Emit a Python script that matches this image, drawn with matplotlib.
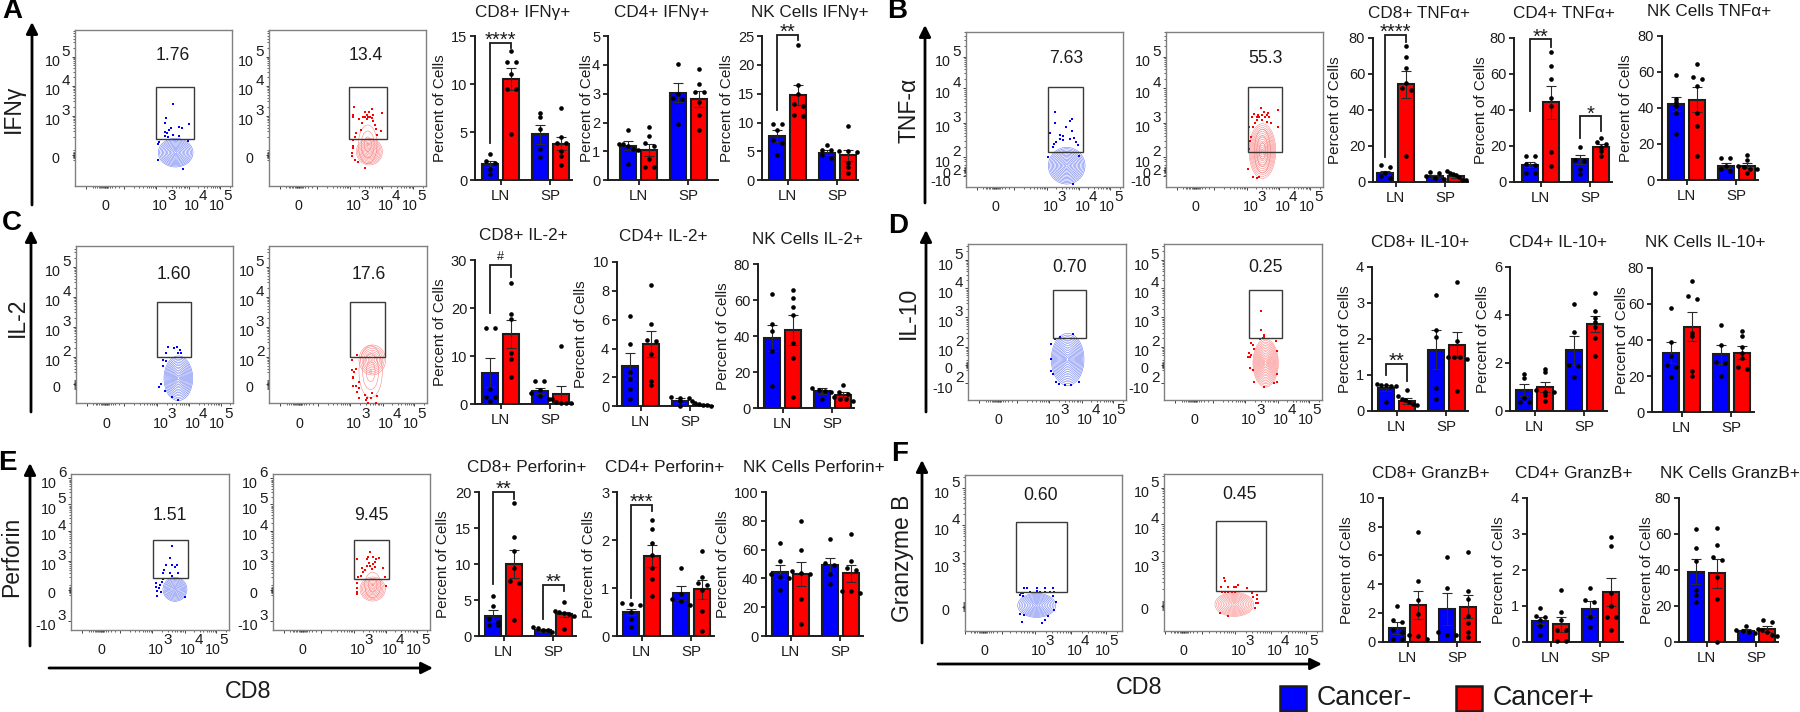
"""
Cytokine panels: flow plots (CD8 vs marker) and bar charts for LN / SP, Cancer- vs Cancer+
"""

import numpy as np
import matplotlib
matplotlib.use("Agg")
import matplotlib.pyplot as plt
from matplotlib.patches import Ellipse, Rectangle

plt.rcParams['font.family'] = ['Liberation Sans', 'DejaVu Sans']

WIDTH = 1800
HEIGHT = 712
BLUE = '#0000ff'
RED = '#ff0000'
INK = '#1c1c1c'
BAR_POS = [0, 1, 2.34, 3.34]
PX_PER_BAR = 21.3
GROUP_TICKS = [0.5, 2.84]
GROUP_LABELS = ['LN', 'SP']
X_DECADES = [243, 340, 434]

# ---- bar chart values, order is LN-, LN+, SP-, SP+
IFNG_CD8_MEANS = [1.7, 10.5, 4.8, 3.8]
IFNG_CD8_SEMS = [0.3, 1.15, 1.0, 0.7]
IFNG_CD8_DOTS = [[2.7, 2.0, 1.8, 1.2, 0.7], [13.4, 12.3, 12.3, 11.0, 9.5, 9.5, 4.8],
                 [7.0, 6.6, 5.3, 3.3, 2.4], [7.5, 4.5, 3.9, 3.9, 3.0, 2.5, 1.6]]
IFNG_CD4_MEANS = [1.2, 1.05, 3.03, 2.83]
IFNG_CD4_SEMS = [0.15, 0.22, 0.33, 0.28]
IFNG_CD4_DOTS = [[1.73, 1.27, 1.25, 1.2, 1.1, 1.05, 0.58], [1.85, 1.55, 1.3, 1.2, 0.75, 0.45, 0.45],
                 [4.02, 3.0, 2.85, 2.8, 1.95], [3.87, 3.35, 3.05, 3.05, 2.7, 2.25, 1.75]]
IFNG_NK_MEANS = [7.7, 14.8, 4.8, 4.3]
IFNG_NK_SEMS = [1.0, 1.7, 0.45, 1.0]
IFNG_NK_DOTS = [[9.8, 9.8, 8.7, 7.0, 6.5, 4.3], [23.4, 16.5, 15.0, 13.2, 12.8, 11.3, 11.2],
                [6.1, 5.2, 5.2, 4.4, 3.8], [9.4, 5.1, 5.1, 4.9, 3.0, 2.3, 1.2]]

TNF_CD8_MEANS = [5, 54, 3, 3]
TNF_CD8_SEMS = [1.2, 7.5, 0.8, 0.8]
TNF_CD8_DOTS = [[9, 8, 5, 3, 2], [75.5, 69.5, 63, 55, 52, 51, 14],
                [5.3, 5, 3, 2, 1.5], [6, 5, 4, 3.5, 2.5, 1, 0.8]]
TNF_CD4_MEANS = [9.5, 44, 12.5, 19.5]
TNF_CD4_SEMS = [1.5, 9, 2.5, 1.5]
TNF_CD4_DOTS = [[14.5, 14.5, 10, 9.5, 5, 5], [72, 64.5, 57, 46.5, 42, 16.5, 8.5],
                [19.5, 12, 11.5, 7, 4], [24.5, 22, 21, 19, 17, 14]]
TNF_NK_MEANS = [42, 44.5, 8, 8]
TNF_NK_SEMS = [4, 7, 1.5, 1.5]
TNF_NK_DOTS = [[58, 45, 43, 41, 37, 25.5], [64.5, 57, 56, 52, 37, 30, 13.5],
               [12, 12, 8, 6, 5], [14, 11, 8, 7, 6, 6, 4]]

IL2_CD8_MEANS = [6.5, 14.6, 2.7, 2.0]
IL2_CD8_SEMS = [3.0, 3.0, 0.7, 1.7]
IL2_CD8_DOTS = [[15.8, 15.8, 3.2, 1.5, 1.5, 0.7], [25.2, 18.8, 17.7, 10.6, 9.3, 5.6],
                [4.7, 4.7, 3.0, 2.2, 1.7, 1.0], [12, 1, 0.5, 0.3, 0.3, 0.3]]
IL2_CD4_MEANS = [2.8, 4.3, 0.4, 0.1]
IL2_CD4_SEMS = [0.9, 0.9, 0.2, 0.08]
IL2_CD4_DOTS = [[6.25, 4.35, 2.4, 1.9, 1.2, 0.5], [8.4, 5.7, 4.6, 4.5, 3.6, 1.75, 1.5],
                [0.65, 0.6, 0.6, 0.35, 0.05], [0.4, 0.2, 0.15, 0.1, 0.1, 0.05]]
IL2_NK_MEANS = [39, 43.5, 9.5, 7.5]
IL2_NK_SEMS = [7, 8.5, 1.5, 1.5]
IL2_NK_DOTS = [[63.5, 46.5, 43, 32, 12.5], [65.5, 61, 56, 52, 36, 28, 6.5],
               [11.5, 10, 9.5, 9, 5], [13, 9, 8, 6, 5, 5, 4]]

IL10_CD8_MEANS = [0.63, 0.28, 1.7, 1.83]
IL10_CD8_SEMS = [0.08, 0.08, 0.55, 0.37]
IL10_CD8_DOTS = [[0.73, 0.72, 0.71, 0.7, 0.7, 0.25], [0.57, 0.4, 0.32, 0.3, 0.25, 0.2, 0.17],
                 [3.22, 2.25, 2.05, 0.62, 0.32], [3.58, 1.95, 1.5, 1.5, 1.5, 1.45, 0.55]]
IL10_CD4_MEANS = [0.85, 1.0, 2.52, 3.63]
IL10_CD4_SEMS = [0.25, 0.2, 0.6, 0.33]
IL10_CD4_DOTS = [[1.55, 1.35, 0.55, 0.35, 0.35], [1.75, 1.6, 0.85, 0.8, 0.8, 0.65, 0.4],
                 [4.45, 3.3, 1.9, 1.85, 1.4], [4.9, 4.15, 3.85, 3.7, 3.5, 3.05, 2.3]]
IL10_NK_MEANS = [33, 47.5, 32, 33]
IL10_NK_SEMS = [6, 8, 5.5, 3.5]
IL10_NK_DOTS = [[58, 39, 31, 26, 25, 19.5], [73, 64.5, 63, 44, 42, 23, 20],
                [48.5, 37, 28, 27, 20], [45, 42, 36, 33, 30, 25, 24]]

PRF_CD8_MEANS = [2.8, 10, 0.8, 3]
PRF_CD8_SEMS = [0.75, 2, 0.2, 0.4]
PRF_CD8_DOTS = [[5.6, 4.2, 2.3, 2, 1.5, 1.5], [18.5, 13.8, 11.8, 9.4, 7.6, 7.4, 2.2],
                [1.2, 1.1, 0.9, 0.8, 0.6], [4.7, 3.5, 3.3, 3.2, 3.1, 2.8, 1.0]]
PRF_CD4_MEANS = [0.5, 1.67, 0.9, 0.97]
PRF_CD4_SEMS = [0.07, 0.23, 0.15, 0.2]
PRF_CD4_DOTS = [[0.68, 0.67, 0.65, 0.5, 0.35, 0.18], [2.42, 2.22, 1.93, 1.68, 1.42, 1.18, 0.83],
                [1.42, 0.88, 0.78, 0.72, 0.65], [1.77, 1.22, 1.1, 1.07, 0.95, 0.52, 0.1]]
PRF_NK_MEANS = [44.5, 43, 49, 43.5]
PRF_NK_SEMS = [5, 8.5, 5.5, 6]
PRF_NK_DOTS = [[64.5, 52, 43, 41, 40, 32], [80, 60, 45, 44, 43, 26, 8],
               [67.5, 51, 49, 43, 36], [71, 52, 47, 46, 31, 31, 30]]

GZB_CD8_MEANS = [0.95, 2.55, 2.25, 2.42]
GZB_CD8_SEMS = [0.4, 1.0, 1.1, 0.8]
GZB_CD8_DOTS = [[2.5, 1.5, 1.4, 0.8, 0.7, 0.2, 0.2], [7.65, 4.25, 2.9, 1.9, 0.5, 0.4, 0.2],
                [5.85, 3.7, 0.7, 0.5, 0.5], [6.2, 3.5, 3.0, 1.8, 1.3, 0.7, 0.3]]
GZB_CD4_MEANS = [0.58, 0.48, 0.92, 1.38]
GZB_CD4_SEMS = [0.1, 0.2, 0.2, 0.38]
GZB_CD4_DOTS = [[0.95, 0.72, 0.7, 0.6, 0.45, 0.18], [1.43, 0.83, 0.6, 0.33, 0.33, 0.03, 0.03],
                [1.48, 1.15, 1.1, 0.68, 0.4], [2.92, 2.67, 1.35, 1.0, 0.68, 0.68, 0.32]]
GZB_NK_MEANS = [39, 38, 6, 7]
GZB_NK_SEMS = [7, 8, 1.2, 1.5]
GZB_NK_DOTS = [[62.5, 52, 45, 29, 26, 22], [63, 53.5, 47, 45.5, 36, 23.5, 0],
               [9, 6.5, 6, 5.5, 5], [12, 11, 7, 6.5, 5.5, 4, 3]]

# ---- each entry: title, means, sems, dots, y ticks, box (left, top, right, bottom),
# first bar, ylabel x, title x, title y, brackets (x0, x1, y top, y left, y right, text)
BAR_PANELS = [
    ('CD8+ IFNγ+', IFNG_CD8_MEANS, IFNG_CD8_SEMS, IFNG_CD8_DOTS, [0, 5, 10, 15], (475, 36, 572, 180.3), 490, 440, 523, 12,
     [(0, 1, 14.3, 3.84, 13.8, '****')]),
    ('CD4+ IFNγ+', IFNG_CD4_MEANS, IFNG_CD4_SEMS, IFNG_CD4_DOTS, [0, 1, 2, 3, 4, 5], (608, 36, 718, 180.3), 628, 587, 662, 12, []),
    ('NK Cells IFNγ+', IFNG_NK_MEANS, IFNG_NK_SEMS, IFNG_NK_DOTS, [0, 5, 10, 15, 20, 25], (762, 36, 858, 180.3), 777, 727, 810, 12,
     [(0, 1, 25.2, 12.2, 24.3, '**')]),
    ('CD8+ TNFα+', TNF_CD8_MEANS, TNF_CD8_SEMS, TNF_CD8_DOTS, [0, 20, 40, 60, 80], (1373, 37.7, 1468, 181.7), 1385, 1335, 1419, 13,
     [(0, 1, 81.7, 13.9, 77.8, '****')]),
    ('CD4+ TNFα+', TNF_CD4_MEANS, TNF_CD4_SEMS, TNF_CD4_DOTS, [0, 20, 40, 60, 80], (1514, 37.7, 1612, 181.7), 1530, 1481, 1564, 13,
     [(0, 1, 79, 39.4, 75, '**'), (2.34, 3.34, 36.3, 24, 28, '*')]),
    ('NK Cells TNFα+', TNF_NK_MEANS, TNF_NK_SEMS, TNF_NK_DOTS, [0, 20, 40, 60, 80], (1662, 35.7, 1758, 180), 1676, 1626, 1709, 11, []),
    ('CD8+ IL-2+', IL2_CD8_MEANS, IL2_CD8_SEMS, IL2_CD8_DOTS, [0, 10, 20, 30], (475, 260, 573, 404), 490, 440, 523, 236,
     [(0, 1, 29, 19, 26.5, '#')]),
    ('CD4+ IL-2+', IL2_CD4_MEANS, IL2_CD4_SEMS, IL2_CD4_DOTS, [0, 2, 4, 6, 8, 10], (617, 262, 713, 406.3), 630, 581, 663, 237, []),
    ('NK Cells IL-2+', IL2_NK_MEANS, IL2_NK_SEMS, IL2_NK_DOTS, [0, 20, 40, 60, 80], (758, 264, 854, 408.3), 772, 723, 807, 239, []),
    ('CD8+ IL-10+', IL10_CD8_MEANS, IL10_CD8_SEMS, IL10_CD8_DOTS, [0, 1, 2, 3, 4], (1372, 267, 1468, 410.7), 1386, 1345, 1420, 243,
     [(0, 1, 1.31, 0.99, 0.83, '**')]),
    ('CD4+ IL-10+', IL10_CD4_MEANS, IL10_CD4_SEMS, IL10_CD4_DOTS, [0, 2, 4, 6], (1510, 267, 1607, 410.7), 1524, 1483, 1558, 243, []),
    ('NK Cells IL-10+', IL10_NK_MEANS, IL10_NK_SEMS, IL10_NK_DOTS, [0, 20, 40, 60, 80], (1652, 268, 1754, 412), 1671, 1622, 1705, 243, []),
    ('CD8+ Perforin+', PRF_CD8_MEANS, PRF_CD8_SEMS, PRF_CD8_DOTS, [0, 5, 10, 15, 20], (479, 492, 576, 636), 493, 443, 527, 467,
     [(0, 1, 20, 7.2, 19, '**'), (2.34, 3.34, 7.1, 2.3, 6.2, '**')]),
    ('CD4+ Perforin+', PRF_CD4_MEANS, PRF_CD4_SEMS, PRF_CD4_DOTS, [0, 1, 2, 3], (617, 492, 714, 636), 631, 589, 665, 467,
     [(0, 1, 2.73, 0.8, 2.6, '***')]),
    ('NK Cells Perforin+', PRF_NK_MEANS, PRF_NK_SEMS, PRF_NK_DOTS, [0, 20, 40, 60, 80, 100], (766, 492, 863, 636), 780, 723, 814, 467, []),
    ('CD8+ GranzB+', GZB_CD8_MEANS, GZB_CD8_SEMS, GZB_CD8_DOTS, [0, 2, 4, 6, 8, 10], (1383, 497.7, 1480, 641.7), 1397, 1347, 1431, 473, []),
    ('CD4+ GranzB+', GZB_CD4_MEANS, GZB_CD4_SEMS, GZB_CD4_DOTS, [0, 1, 2, 3, 4], (1527, 497.7, 1623, 641.7), 1540, 1499, 1574, 473, []),
    ('NK Cells GranzB+', GZB_NK_MEANS, GZB_NK_SEMS, GZB_NK_DOTS, [0, 20, 40, 60, 80], (1679, 497.7, 1778, 641.7), 1696, 1647, 1730, 473, []),
]

# ---- flow events, in channel units of each plot
IFNG_NEG_EVENTS = [(292, 245), (271, 203), (269, 188), (342, 187), (311, 176), (319, 173), (287, 173), (281, 168), (269, 163),
                   (274, 158), (269, 150), (279, 148), (294, 153), (312, 150), (252, 131), (249, 125), (337, 136), (247, 77), (322, 52)]
IFNG_POS_EVENTS = [(257, 238), (289, 223), (311, 230), (302, 223), (314, 213), (339, 218), (252, 213), (252, 208), (294, 213),
                   (284, 208), (289, 206), (299, 206), (304, 208), (309, 203), (272, 200), (294, 200), (314, 196), (279, 188),
                   (319, 183), (276, 168), (322, 170), (336, 166), (262, 158), (324, 153), (259, 146), (254, 138), (252, 121),
                   (254, 113), (250, 98), (250, 90), (259, 78), (269, 71), (290, 53)]
TNF_NEG_EVENTS = [(269, 223), (269, 192), (318, 202), (313, 198), (301, 180), (318, 167), (253, 160), (283, 155), (293, 153),
                  (325, 145), (313, 142), (283, 142), (293, 140), (270, 135), (330, 135), (265, 128), (337, 125), (261, 120),
                  (248, 90), (340, 92), (321, 7)]
TNF_POS_EVENTS = [(286, 235), (336, 230), (295, 225), (265, 218), (278, 215), (288, 215), (308, 222), (303, 215), (258, 208),
                  (273, 208), (281, 208), (298, 208), (311, 210), (275, 200), (288, 200), (268, 190), (303, 195), (315, 192),
                  (251, 180), (261, 178), (336, 178), (255, 150), (253, 138), (249, 112), (247, 52), (263, 30), (275, 25), (279, 28)]
IL2_NEG_EVENTS = [(275, 170), (304, 170), (294, 165), (312, 160), (270, 150), (307, 150), (314, 150), (262, 130), (269, 127),
                  (262, 112), (256, 57), (249, 50), (267, 38), (288, 18), (307, 10)]
IL2_POS_EVENTS = [(264, 145), (247, 129), (260, 102), (247, 100), (255, 93), (250, 80), (252, 75), (270, 65), (252, 52), (260, 53),
                  (270, 45), (264, 35), (287, 25), (307, 32), (322, 22), (270, 17), (292, 15), (304, 15), (290, 10), (320, 0), (297, 2)]
IL10_NEG_EVENTS = [(315, 197), (276, 190), (261, 184), (249, 168), (248, 124), (248, 87), (253, 78), (263, 55), (272, 49), (291, 44),
                   (309, 45), (331, 53)]
IL10_POS_EVENTS = [(291, 267), (291, 210), (299, 195), (299, 188), (287, 182), (297, 185), (334, 177), (259, 172), (267, 165), (270, 152),
                   (339, 148), (255, 142), (259, 135), (250, 128), (257, 130), (257, 95), (265, 90), (339, 78), (270, 55), (330, 52),
                   (337, 55), (299, 40)]
PRF_NEG_EVENTS = [(301, 252), (296, 215), (283, 194), (301, 195), (318, 196), (310, 188), (278, 180), (274, 172), (296, 170), (301, 163),
                  (321, 172), (274, 152), (254, 142), (271, 145), (266, 135), (254, 130), (264, 125), (258, 118), (268, 113), (258, 102),
                  (341, 100)]
PRF_POS_EVENTS = [(292, 235), (287, 220), (300, 218), (252, 212), (282, 212), (310, 212), (320, 215), (307, 205), (290, 202), (302, 198),
                  (282, 192), (292, 192), (307, 190), (332, 185), (267, 185), (277, 180), (297, 182), (272, 175), (264, 162), (257, 160),
                  (337, 158), (254, 140), (340, 132), (252, 125), (252, 115), (252, 107)]
GZB_NEG_EVENTS = [(178, 129), (186, 127), (218, 127), (241, 127), (266, 127), (196, 117), (216, 120), (226, 117), (241, 117), (256, 117),
                  (268, 117), (168, 114), (176, 112), (166, 107), (174, 104), (264, 104), (274, 87), (268, 62), (166, 50), (178, 47),
                  (251, 45), (241, 32), (173, 27), (233, 24)]
GZB_POS_EVENTS = [(180, 157), (182, 150), (169, 132), (192, 132), (209, 130), (222, 137), (215, 130), (247, 127), (172, 115), (182, 115),
                  (192, 115), (202, 115), (212, 115), (262, 114), (279, 107), (267, 102), (277, 95), (274, 84), (280, 84), (272, 67),
                  (167, 54), (190, 44)]

# box, colour, events, gate (x0, x1, y0, y1), contour families (cx, cy, rx, ry, rings), percent text (text, x, y),
# y decades {exponent: channel}, zero channel, negative decade (exponent, channel) or None, x decades
FLOW_PLOTS = [
    ((75.3, 30, 232, 186), BLUE, IFNG_NEG_EVENTS, (241, 355, 140, 298), [(301, 100, 52, 43, 13)], ('1.76', 292, 390),
     {5: 388, 4: 301, 3: 211}, 93, None, X_DECADES),
    ((268.7, 30, 426, 186), RED, IFNG_POS_EVENTS, (241, 355, 140, 298), [(302, 103, 39, 40, 11), (297, 125, 28, 58, 4)], ('13.4', 291, 390),
     {5: 388, 4: 301, 3: 211}, 93, None, X_DECADES),
    ((965.7, 31.7, 1122.7, 186.7), BLUE, TNF_NEG_EVENTS, (247, 351, 105, 300), [(303, 63, 55, 55, 14)], ('7.63', 302, 385),
     {5: 390, 4: 295, 3: 192, 2: 88}, 50, (2, 32), X_DECADES),
    ((1165.7, 31.7, 1322.7, 186.7), RED, TNF_POS_EVENTS, (246, 350, 105, 300), [(290, 107, 40, 82, 14), (290, 107, 24, 66, 4)], ('55.3', 300, 385),
     {5: 390, 4: 295, 3: 192, 2: 88}, 50, (2, 32), X_DECADES),
    ((76, 246, 232.7, 403.3), BLUE, IL2_NEG_EVENTS, (242, 345, 139, 305), [(307, 75, 43, 67, 14)], ('1.60', 295, 385),
     {5: 410, 4: 320, 3: 230, 2: 140}, 57, None, X_DECADES),
    ((269.3, 246, 426.7, 403.3), RED, IL2_POS_EVENTS, (243, 346, 139, 303), [(309, 130, 40, 45, 9), (304, 95, 35, 78, 4)], ('17.6', 298, 385),
     {5: 410, 4: 320, 3: 230, 2: 140}, 57, None, X_DECADES),
    ((968.3, 244, 1126, 400), BLUE, IL10_NEG_EVENTS, (255, 354, 185, 330), [(298, 122, 49, 78, 15)], ('0.70', 305, 398),
     {5: 420, 4: 335, 3: 248, 2: 160}, 105, (2, 50), X_DECADES),
    ((1164.3, 244, 1322.3, 400), RED, IL10_POS_EVENTS, (255, 354, 185, 330), [(304, 111, 38, 72, 15)], ('0.25', 305, 398),
     {5: 420, 4: 335, 3: 248, 2: 160}, 105, (2, 50), X_DECADES),
    ((71.3, 474, 228.7, 630), BLUE, PRF_NEG_EVENTS, (246, 350, 155, 270), [(311, 122, 36, 36, 11)], ('1.51', 296, 345),
     {6: 455, 5: 377, 4: 297, 3: 207}, 120, (3, 28), X_DECADES),
    ((272.7, 474, 430, 630), RED, PRF_POS_EVENTS, (245, 350, 153, 269), [(300, 123, 38, 36, 10), (300, 135, 24, 38, 3)], ('9.45', 296, 345),
     {6: 455, 5: 377, 4: 297, 3: 207}, 120, (3, 28), X_DECADES),
    ((964.7, 475, 1122.3, 630.7), BLUE, GZB_NEG_EVENTS, (153, 307, 117, 327), [(216, 76, 57, 36, 12)], ('0.60', 228, 407),
     {5: 427, 4: 317, 3: 204}, 72, None, [211, 320, 424]),
    ((1164.3, 474, 1322.3, 630.7), RED, GZB_POS_EVENTS, (154, 306, 119, 329), [(210, 79, 58, 36, 12)], ('0.45', 227, 409),
     {5: 429, 4: 320, 3: 205}, 75, None, [211, 320, 424]),
]

# x, y for the panel letters and the rotated marker names
PANEL_LETTERS = [('A', 12, 11), ('B', 897, 11), ('C', 12, 223), ('D', 898, 226), ('E', 7, 463), ('F', 900, 454)]
MARKER_LABELS = [('IFNγ', 13, 109), ('TNF-α', 909, 110), ('IL-2', 17, 317), ('IL-10', 908, 313), ('Perforin', 12, 557), ('Granzyme B', 903, 558)]
V_ARROWS = [(32, 205, 22), (925, 203, 25), (31, 412, 230), (926, 412, 230), (30, 646, 463), (922, 643, 460)]
H_ARROWS = [(49, 433, 668), (938, 1322, 664)]
AXIS_NAMES = [('CD8', 248, 691), ('CD8', 1139, 687)]
LEGEND = [('Cancer-', BLUE, 1280, 1317), ('Cancer+', RED, 1456, 1493)]


def px_axes(fig, box):
    left, top, right, bottom = box
    return fig.add_axes([left / WIDTH, 1 - bottom / HEIGHT, (right - left) / WIDTH, (bottom - top) / HEIGHT])


def swarm_offsets(values, px_per_value):
    # Spread dots that would touch sideways, roughly the way Prism does
    values = sorted(values, reverse=True)
    offsets = []
    i = 0
    while i < len(values):
        j = i
        while j + 1 < len(values) and (values[j] - values[j + 1]) * px_per_value < 3.5:
            j += 1
        n = j - i + 1
        step = min(9.0, 19.0 / max(n - 1, 1))
        offsets += [(k - (n - 1) / 2) * step for k in range(n)]
        i = j + 1
    return values, np.array(offsets) / PX_PER_BAR


def draw_bars(fig, panel):
    title, means, sems, dots, yticks, box, bar0, label_x, title_x, title_y, brackets = panel
    left, top, right, bottom = box
    ax = px_axes(fig, box)
    ax.patch.set_alpha(0)
    ymax = yticks[-1]
    ax.set_xlim((left - bar0) / PX_PER_BAR, (right - bar0) / PX_PER_BAR)
    ax.set_ylim(0, ymax)
    ax.bar(BAR_POS, means, width=0.74, color=[BLUE, RED, BLUE, RED], edgecolor=INK, linewidth=1.5, zorder=2)
    ax.errorbar(BAR_POS, means, yerr=sems, fmt='none', ecolor='#2a2a2a', elinewidth=0.8, capsize=3.6, capthick=0.8, zorder=3)
    px_per_value = (bottom - top) / ymax
    for x, group in zip(BAR_POS, dots):
        vals, offs = swarm_offsets(group, px_per_value)
        ax.scatter(x + offs, vals, s=11, color='black', linewidths=0, zorder=4, clip_on=False)
    for x0, x1, y_top, y_left, y_right, text in brackets:
        ax.plot([x0, x0, x1, x1], [y_left, y_top, y_top, y_right], color=INK, lw=1.3, clip_on=False, zorder=5,
                solid_joinstyle='miter')
        size, lift = (9, 5) if text == '#' else (14.5, -3)
        ax.annotate(text, xy=((x0 + x1) / 2, y_top), xytext=(0, lift), textcoords='offset pixels', ha='center', va='baseline',
                    fontsize=size, color=INK, annotation_clip=False)
    for side in ['top', 'right']:
        ax.spines[side].set_visible(False)
    for side in ['left', 'bottom']:
        ax.spines[side].set_linewidth(1.4)
        ax.spines[side].set_color(INK)
    ax.set_xticks(GROUP_TICKS)
    ax.set_xticklabels(GROUP_LABELS)
    ax.set_yticks(yticks)
    ax.tick_params(axis='both', length=3.6, width=1.3, color=INK, labelsize=10.5, labelcolor=INK, pad=2)
    ax.tick_params(axis='x', pad=3, labelsize=10.8)
    fig.text(label_x / WIDTH, 1 - (top + bottom) / 2 / HEIGHT, 'Percent of Cells', rotation=90, ha='center', va='center',
             fontsize=11, color=INK)
    fig.text(title_x / WIDTH, 1 - title_y / HEIGHT, title, ha='center', va='center', fontsize=12.3, color=INK)


def decade_ticks(a, b):
    return [a + (b - a) * np.log10(k) for k in range(2, 10)]


def draw_flow(fig, plot):
    box, color, events, gate, families, pct, y_decades, y_zero, y_neg, x_decades = plot
    left, top, right, bottom = box
    width = (right - left) * 3
    height = (bottom - top) * 3
    ax = px_axes(fig, box)
    ax.set_xlim(0, width)
    ax.set_ylim(0, height)

    ring_color = '#5a6cf0' if color == BLUE else '#fb7878'
    for cx, cy, rx, ry, rings in families:
        for frac in np.linspace(0.07, 1, rings):
            ax.add_patch(Ellipse((cx, cy), 2 * rx * frac, 2 * ry * frac, fill=False, edgecolor=ring_color, linewidth=0.35, zorder=2))
    xs, ys = zip(*events)
    ax.scatter(xs, ys, s=4, marker='s', color=color, linewidths=0, zorder=3, clip_on=False)
    x0, x1, y0, y1 = gate
    ax.add_patch(Rectangle((x0, y0), x1 - x0, y1 - y0, fill=False, edgecolor='#3a3a3a', linewidth=1.0, zorder=4))
    ax.text(pct[1], pct[2], pct[0], ha='center', va='center', fontsize=12.7, color=INK)

    # x ticks: biexponential looking axis
    step = x_decades[1] - x_decades[0]
    zero_x = x_decades[0] - 153
    x_major = [zero_x - 57] + [zero_x + 55] + list(x_decades)
    x_minor = [zero_x + d for d in [-38, -30, -26, -20, -16, -12, -9, -6, -4, -2, 0, 2, 4, 6, 9, 14, 20, 28, 40]]
    x_minor += [v for v in decade_ticks(x_decades[0] - step, x_decades[0]) if v > zero_x + 70]
    x_minor += decade_ticks(x_decades[0], x_decades[1]) + decade_ticks(x_decades[1], x_decades[2])
    x_minor += [v for v in decade_ticks(x_decades[2], x_decades[2] + step) if v < width - 2]
    ax.set_xticks(x_major)
    ax.set_xticks(x_minor, minor=True)

    decs = sorted(y_decades.values())
    y_step = decs[1] - decs[0]
    y_major = decs + [y_zero]
    y_minor = [y_zero + d for d in [-14, -10, -7, -5, -3, -1.5, 1.5, 3, 5, 7, 10, 14]]
    for a, b in zip(decs[:-1], decs[1:]):
        y_minor += decade_ticks(a, b)
    y_minor += [v for v in decade_ticks(decs[0] - y_step, decs[0]) if v > y_zero + 25]
    y_minor += [v for v in decade_ticks(decs[-1], decs[-1] + y_step) if v < height - 2]
    if y_neg is not None:
        y_major.append(y_neg[1])
    ax.set_yticks(y_major)
    ax.set_yticks(y_minor, minor=True)
    ax.tick_params(which='major', length=2.4, width=0.6, labelbottom=False, labelleft=False, color='#222222')
    ax.tick_params(which='minor', length=1.4, width=0.5, color='#222222')
    for spine in ax.spines.values():
        spine.set_color('#808080')
        spine.set_linewidth(1.0)

    def label(text, xy, dx, dy, ha, size=10.3):
        ax.annotate(text, xy=xy, xycoords=('data', 'data'), xytext=(dx, dy), textcoords='offset pixels', ha=ha, va='center',
                    fontsize=size, color=INK, annotation_clip=False)

    for exp, y in y_decades.items():
        label('10', (0, y), -15, -5.5, 'right')
        label(str(exp), (0, y), -13.5, 5, 'left', 11)
    label('0', (0, y_zero), -19.5, -4, 'center')
    if y_neg is not None:
        label('-10', (0, y_neg[1]), -15, -5.5, 'right')
        label(str(y_neg[0]), (0, y_neg[1]), -13.5, 5, 'left', 11)
    label('0', (zero_x, 0), 0, -20.5, 'center')
    for exp, x, off_ten, off_sup in zip([3, 4, 5], x_decades, [4, 3.4, -3.4], [15, 14, 8]):
        label('10', (x, 0), off_ten, -20.5, 'center')
        label(str(exp), (x, 0), off_sup, -10.5, 'center', 11)


def draw_overlay(fig):
    ax = fig.add_axes([0, 0, 1, 1], zorder=10)
    ax.set_xlim(0, WIDTH)
    ax.set_ylim(HEIGHT, 0)
    ax.axis('off')
    ax.patch.set_alpha(0)
    for letter, x, y in PANEL_LETTERS:
        ax.text(x, y, letter, ha='center', va='center', fontsize=20, fontweight='bold', family='Liberation Sans', color='black')
    for text, x, y in MARKER_LABELS:
        ax.text(x, y, text, rotation=90, ha='center', va='center', fontsize=16.5, color=INK)
    arrow = dict(arrowstyle='-|>', lw=2.0, color='black', mutation_scale=17, shrinkA=0, shrinkB=0)
    for x, y0, y1 in V_ARROWS:
        ax.annotate('', xy=(x, y1), xytext=(x, y0), arrowprops=arrow)
    for x0, x1, y in H_ARROWS:
        ax.annotate('', xy=(x1, y), xytext=(x0, y), arrowprops=arrow)
    for text, x, y in AXIS_NAMES:
        ax.text(x, y, text, ha='center', va='center', fontsize=16.8, color=INK)
    for text, color, square_x, text_x in LEGEND:
        ax.add_patch(Rectangle((square_x, 686), 26, 24.5, facecolor=color, edgecolor=INK, linewidth=1.8))
        ax.text(text_x, 698, text, ha='left', va='center', fontsize=19.3, color=INK)


def main():
    fig = plt.figure(figsize=(WIDTH / 100, HEIGHT / 100), dpi=100)
    for plot in FLOW_PLOTS:
        draw_flow(fig, plot)
    for panel in BAR_PANELS:
        draw_bars(fig, panel)
    draw_overlay(fig)
    fig.savefig('out.png', dpi=100)


if __name__ == "__main__":
    main()
